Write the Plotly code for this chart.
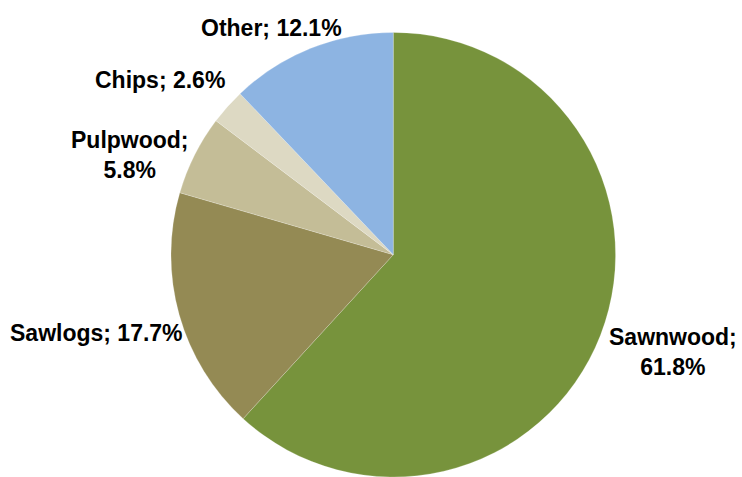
import plotly.graph_objects as go

# Share of output by product
products = ["Sawnwood", "Sawlogs", "Pulpwood", "Chips", "Other"]
shares = [61.8, 17.7, 5.8, 2.6, 12.1]
colors = ["#77933C", "#948A54", "#C4BD97", "#DDD9C3", "#8DB4E2"]

W, H = 742, 477

# Label anchor points in pixels (x from left, y from top) and line breaks
label_pos = {
    "Sawnwood": (673, 352, True),
    "Sawlogs": (96, 333, False),
    "Pulpwood": (130, 155, True),
    "Chips": (160, 80, False),
    "Other": (271, 28, False),
}

fig = go.Figure(
    go.Pie(
        labels=products,
        values=shares,
        sort=False,
        direction="clockwise",
        rotation=0,
        textinfo="none",
        hoverinfo="label+percent",
        marker=dict(colors=colors, line=dict(color="rgba(255,255,255,0.4)", width=0.5)),
        domain=dict(x=[0.229, 0.831], y=[0.0, 0.932]),
        showlegend=False,
    )
)

annotations = []
for name, val in zip(products, shares):
    px, py, wrap = label_pos[name]
    sep = ";<br>" if wrap else "; "
    annotations.append(
        dict(
            text=f"<b>{name}{sep}{val:.1f}%</b>",
            x=px / W,
            y=1 - py / H,
            xref="paper",
            yref="paper",
            xanchor="center",
            yanchor="middle",
            showarrow=False,
            align="center",
            font=dict(family="Liberation Sans, Arial, sans-serif", size=23, color="#000000"),
        )
    )

fig.update_layout(
    width=W,
    height=H,
    margin=dict(l=0, r=0, t=0, b=0),
    paper_bgcolor="white",
    plot_bgcolor="white",
    annotations=annotations,
)

fig.write_html("out.html")
